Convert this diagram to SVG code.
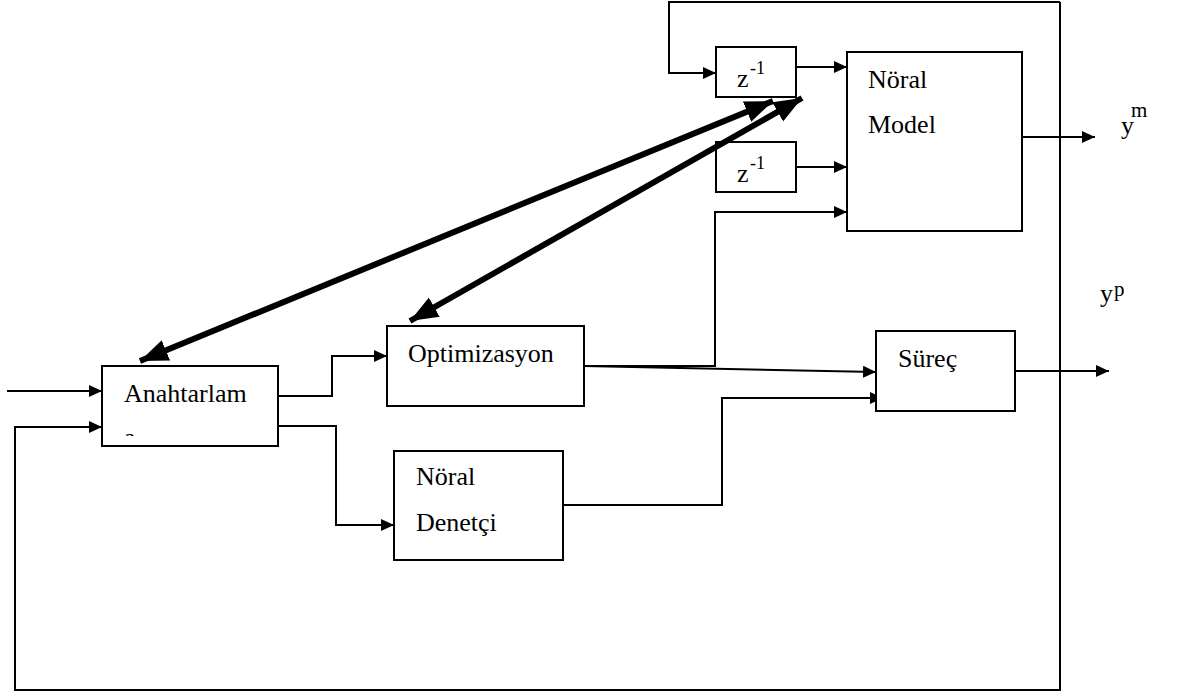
<svg xmlns="http://www.w3.org/2000/svg" width="1179" height="697" viewBox="0 0 1179 697">
<style>
.box{fill:#fff;stroke:#000;stroke-width:2}
.ln{fill:none;stroke:#000;stroke-width:2}
.thick{fill:none;stroke:#000;stroke-width:6}
.t{font-family:"Liberation Serif","Times New Roman",serif;font-size:26px;fill:#000}
.sup{font-family:"Liberation Serif","Times New Roman",serif;font-size:18px;fill:#000}
.supy{font-family:"Liberation Serif","Times New Roman",serif;font-size:21px;fill:#000}
</style>
<defs>
<marker id="ah" markerUnits="userSpaceOnUse" markerWidth="14" markerHeight="14" refX="13" refY="6" orient="auto">
<path d="M0,0 L13,6 L0,12 z" fill="#000"/>
</marker>
<marker id="bh" markerUnits="userSpaceOnUse" markerWidth="30" markerHeight="24" refX="28" refY="11" orient="auto-start-reverse">
<path d="M0,0 L28,11 L0,22 z" fill="#000"/>
</marker>
<clipPath id="anclip"><rect x="103" y="367" width="174" height="69"/></clipPath>
</defs>
<rect width="1179" height="697" fill="#fff"/>

<g id="connectors">
<path class="ln" d="M1060,2 L1060,690 L15,690 L15,427 L102,427" marker-end="url(#ah)"/>
<path class="ln" d="M1060,2 L669,2 L669,73 L716,73" marker-end="url(#ah)"/>
<path class="ln" d="M7,391 L102,391" marker-end="url(#ah)"/>
<path class="ln" d="M278,396 L332,396 L332,356 L387,356" marker-end="url(#ah)"/>
<path class="ln" d="M278,426 L336,426 L336,525 L394,525" marker-end="url(#ah)"/>
<path class="ln" d="M584,366 L715,366 L715,212 L847,212" marker-end="url(#ah)"/>
<path class="ln" d="M584,366 L876,372" marker-end="url(#ah)"/>
<path class="ln" d="M563,505 L722,505 L722,398 L883,398" marker-end="url(#ah)"/>
<path class="ln" d="M796,67 L847,67" marker-end="url(#ah)"/>
<path class="ln" d="M796,167 L847,167" marker-end="url(#ah)"/>
<path class="ln" d="M1022,137 L1095,137" marker-end="url(#ah)"/>
<path class="ln" d="M1015,371 L1109,371" marker-end="url(#ah)"/>
</g>

<g id="z1">
<rect class="box" x="716" y="47" width="80" height="50"/>
<text class="t" x="737" y="87">z</text><text class="sup" x="750" y="74">-1</text>
</g>
<g id="z2">
<rect class="box" x="716" y="142" width="80" height="50"/>
<text class="t" x="737" y="182">z</text><text class="sup" x="750" y="169">-1</text>
</g>
<g id="noral-model">
<rect class="box" x="847" y="52" width="175" height="179"/>
<text class="t" x="868" y="88">Nöral</text>
<text class="t" x="868" y="133">Model</text>
</g>
<g id="anahtarlama">
<rect class="box" x="102" y="366" width="176" height="80"/>
<text class="t" x="124" y="402">Anahtarlam</text>
<text class="t" x="124" y="446" clip-path="url(#anclip)">a</text>
</g>
<g id="optimizasyon">
<rect class="box" x="387" y="326" width="197" height="80"/>
<text class="t" x="408" y="362">Optimizasyon</text>
</g>
<g id="noral-denetci">
<rect class="box" x="394" y="451" width="169" height="109"/>
<text class="t" x="416" y="485">Nöral</text>
<text class="t" x="416" y="531">Denetçi</text>
</g>
<g id="surec">
<rect class="box" x="876" y="331" width="139" height="80"/>
<text class="t" x="898" y="367">Süreç</text>
</g>
<g id="ym">
<text class="t" x="1121" y="134">y</text><text class="supy" x="1131" y="117">m</text>
</g>
<g id="yp">
<text class="t" x="1100" y="302">y</text><text class="supy" x="1114" y="296">p</text>
</g>

<g id="thick-arrows">
<path class="thick" d="M140,361 L773,101" marker-start="url(#bh)" marker-end="url(#bh)"/>
<path class="thick" d="M410,321 L802,98" marker-start="url(#bh)" marker-end="url(#bh)"/>
</g>
</svg>
